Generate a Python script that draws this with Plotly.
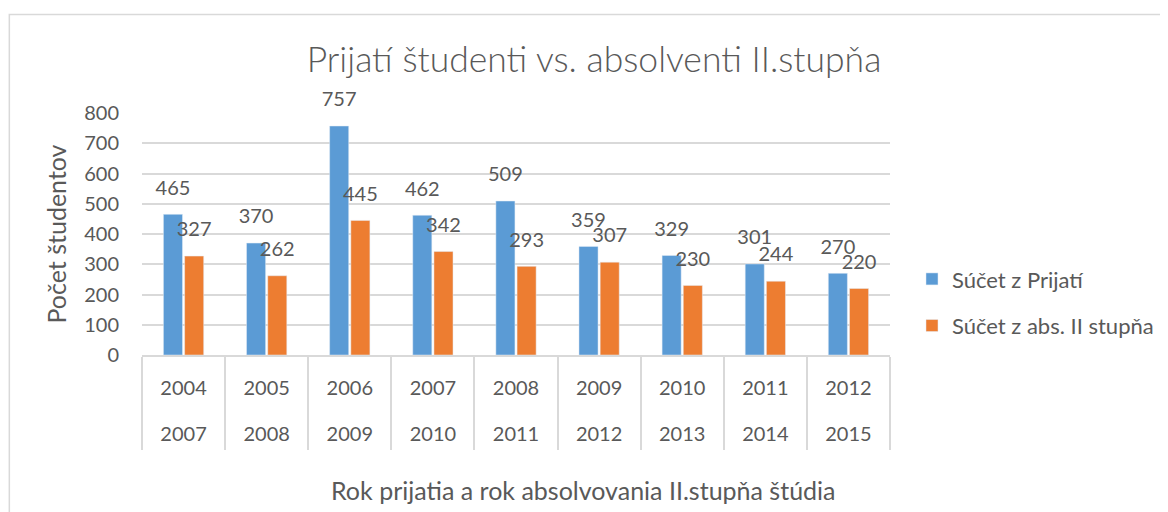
import plotly.graph_objects as go

rok_prijatia = ["2004", "2005", "2006", "2007", "2008", "2009", "2010", "2011", "2012"]
rok_absolvovania = ["2007", "2008", "2009", "2010", "2011", "2012", "2013", "2014", "2015"]
prijati = [465, 370, 757, 462, 509, 359, 329, 301, 270]
absolventi = [327, 262, 445, 342, 293, 307, 230, 244, 220]
y_ticks = [0, 100, 200, 300, 400, 500, 600, 700, 800]

FONT = "Lato"
TXT = "#595959"
GRID = "#d9d9d9"
BLUE = "#5B9BD5"
ORANGE = "#ED7D31"

fig = go.Figure()
fig.add_trace(go.Bar(
    x=rok_prijatia, y=prijati, name="Súčet z Prijatí", legendgroup="a",
    marker=dict(color=BLUE), offsetgroup="1", hoverinfo="x+y",
))
fig.add_trace(go.Bar(
    x=rok_prijatia, y=absolventi, name="Súčet z abs. II stupňa", legendgroup="b",
    marker=dict(color=ORANGE), offsetgroup="2", hoverinfo="x+y",
))
# data labels
for vals, grp in ((prijati, "1"), (absolventi, "2")):
    fig.add_trace(go.Scatter(
        x=rok_prijatia, y=vals, mode="markers+text", text=[str(v) for v in vals],
        textposition="top center", offsetgroup=grp, showlegend=False,
        marker=dict(size=22, color="rgba(0,0,0,0)"), hoverinfo="skip",
        textfont=dict(family=FONT, size=20, color=TXT), cliponaxis=False,
    ))
# second row of category labels
fig.add_trace(go.Scatter(x=[], y=[], xaxis="x2", showlegend=False, hoverinfo="skip"))

W, H = 1160, 504
L, R, T, B = 133.5, 278, 104.7, 157
pw = W - L - R
ph = H - T - B

def px(xp):
    return (xp - L) / pw

def py(yp):
    return (H - B - yp) / ph

n = len(rok_prijatia)
fig.update_layout(
    width=W, height=H,
    margin=dict(l=L, r=R, t=T, b=B, pad=0, autoexpand=False),
    paper_bgcolor="white", plot_bgcolor="white",
    font=dict(family=FONT, color=TXT, size=20),
    barmode="group", bargap=0.49, bargroupgap=0.1,
    scattermode="group", scattergap=0.49,
    title=dict(text="Prijatí študenti vs. absolventi II.stupňa",
               x=586 / W, xanchor="center", xref="container",
               y=1 - 52 / H, yanchor="middle", yref="container",
               font=dict(family=FONT, size=35.5, color=TXT, weight=300)),
    legend=dict(x=px(904), xanchor="left", y=py(250), yanchor="top",
                font=dict(family=FONT, size=22, color=TXT),
                tracegroupgap=15, bgcolor="rgba(0,0,0,0)"),
    xaxis=dict(
        type="category", range=[-0.5, n - 0.5],
        showline=True, linecolor=GRID, linewidth=1.5,
        ticks="outside", tickson="boundaries", ticklen=93, tickwidth=1.5, tickcolor=GRID,
        tickfont=dict(family=FONT, size=20, color=TXT),
        ticklabelstandoff=14,
        showgrid=False, automargin=False,
    ),
    xaxis2=dict(
        overlaying="x", anchor="y", side="bottom", type="linear",
        range=[-0.5, n - 0.5], tickvals=list(range(n)), ticktext=rok_absolvovania,
        ticks="", showgrid=False, showline=False, zeroline=False,
        tickfont=dict(family=FONT, size=20, color=TXT),
        ticklabelstandoff=65, automargin=False,
    ),
    yaxis=dict(
        range=[0, 800], tickvals=y_ticks,
        showgrid=True, gridcolor=GRID, gridwidth=1.5,
        zeroline=False, showline=False, ticks="",
        tickfont=dict(family=FONT, size=20, color=TXT),
        ticklabelstandoff=22, automargin=False,
        title=dict(text="Počet študentov", font=dict(family=FONT, size=25, color=TXT),
                   standoff=10),
    ),
    annotations=[dict(text="Rok prijatia a rok absolvovania II.stupňa štúdia",
                      xref="paper", yref="paper", x=px(575.5), y=py(482),
                      xanchor="center", yanchor="middle", showarrow=False,
                      font=dict(family=FONT, size=25, color=TXT))],
    shapes=[dict(type="rect", xref="paper", yref="paper",
                 x0=px(0.75), x1=px(1180), y0=py(530), y1=py(6),
                 line=dict(color=GRID, width=1.5), fillcolor="rgba(0,0,0,0)", layer="below")],
    showlegend=True,
)

fig.write_html("out.html")
